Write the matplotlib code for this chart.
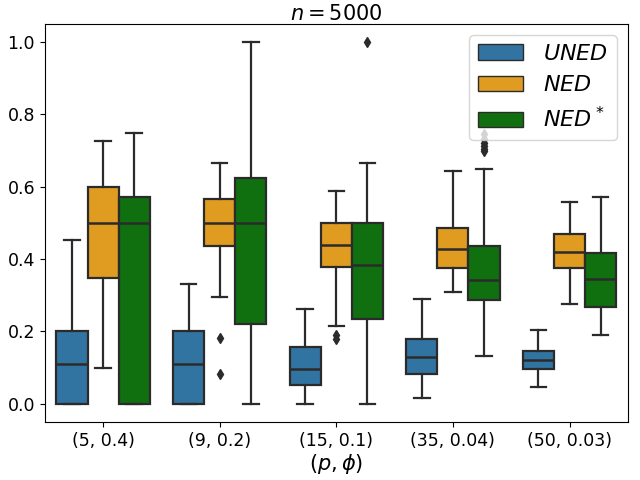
import matplotlib
matplotlib.use("Agg")
import matplotlib.pyplot as plt
from matplotlib.patches import Patch
import numpy as np

groups = ["(5, 0.4)", "(9, 0.2)", "(15, 0.1)", "(35, 0.04)", "(50, 0.03)"]
methods = ["$UNED$", "$NED$", "$NED^*$"]
colors = ["#3274a1", "#df9c20", "#107010"]

# per method: rows = groups, cols = (whislo, q1, med, q3, whishi)
uned = [[0.0, 0.0, 0.111, 0.2, 0.453],
        [0.0, 0.0, 0.111, 0.2, 0.331],
        [0.0, 0.052, 0.097, 0.157, 0.262],
        [0.017, 0.083, 0.13, 0.18, 0.291],
        [0.047, 0.097, 0.12, 0.146, 0.204]]
ned = [[0.1, 0.349, 0.5, 0.6, 0.727],
       [0.294, 0.436, 0.5, 0.566, 0.666],
       [0.214, 0.377, 0.439, 0.5, 0.588],
       [0.309, 0.376, 0.428, 0.486, 0.644],
       [0.276, 0.376, 0.42, 0.47, 0.558]]
ned_star = [[0.0, 0.0, 0.5, 0.572, 0.75],
            [0.0, 0.222, 0.5, 0.624, 1.0],
            [0.0, 0.235, 0.384, 0.5, 0.666],
            [0.133, 0.287, 0.343, 0.436, 0.649],
            [0.191, 0.268, 0.346, 0.418, 0.572]]
uned_fliers = [[], [], [], [], []]
ned_fliers = [[], [0.181, 0.082], [0.19, 0.18], [], []]
ned_star_fliers = [[], [], [1.0], [0.698, 0.705, 0.712, 0.72, 0.733, 0.745], []]

all_stats = [uned, ned, ned_star]
all_fliers = [uned_fliers, ned_fliers, ned_star_fliers]

fig, ax = plt.subplots(figsize=(6.4, 4.8), dpi=100)
line_c = "#2b2b2b"
w = 0.8 / 3
for m in range(3):
    stats = []
    for g in range(len(groups)):
        lo, q1, med, q3, hi = all_stats[m][g]
        stats.append(dict(whislo=lo, q1=q1, med=med, q3=q3, whishi=hi,
                          fliers=all_fliers[m][g]))
    pos = np.arange(len(groups)) + (m - 1) * w
    ax.bxp(stats, positions=pos, widths=w, capwidths=w / 2, patch_artist=True,
           manage_ticks=False,
           boxprops=dict(facecolor=colors[m], edgecolor=line_c, linewidth=1.6),
           whiskerprops=dict(color=line_c, linewidth=1.6),
           capprops=dict(color=line_c, linewidth=1.6),
           medianprops=dict(color=line_c, linewidth=1.8),
           flierprops=dict(marker="d", markerfacecolor=line_c, markeredgecolor=line_c,
                           markersize=5, linestyle="none"))

ax.set_xlim(-0.5, len(groups) - 0.5)
ax.set_ylim(-0.05, 1.05)
ax.set_xticks(np.arange(len(groups)))
ax.set_xticklabels(groups)
ax.tick_params(labelsize=12.5)
ax.set_xlabel(r"$(p, \phi)$", fontsize=15, labelpad=2)
ax.set_title(r"$n = 5000$", fontsize=15, pad=2)

handles = [Patch(facecolor=c, edgecolor=line_c, linewidth=1) for c in colors]
ax.legend(handles, methods, loc="upper right", fontsize=16, handlelength=2.0,
          handletextpad=0.9)

fig.subplots_adjust(left=0.07, right=0.981, top=0.95, bottom=0.121)
fig.savefig("out.png", dpi=100)
